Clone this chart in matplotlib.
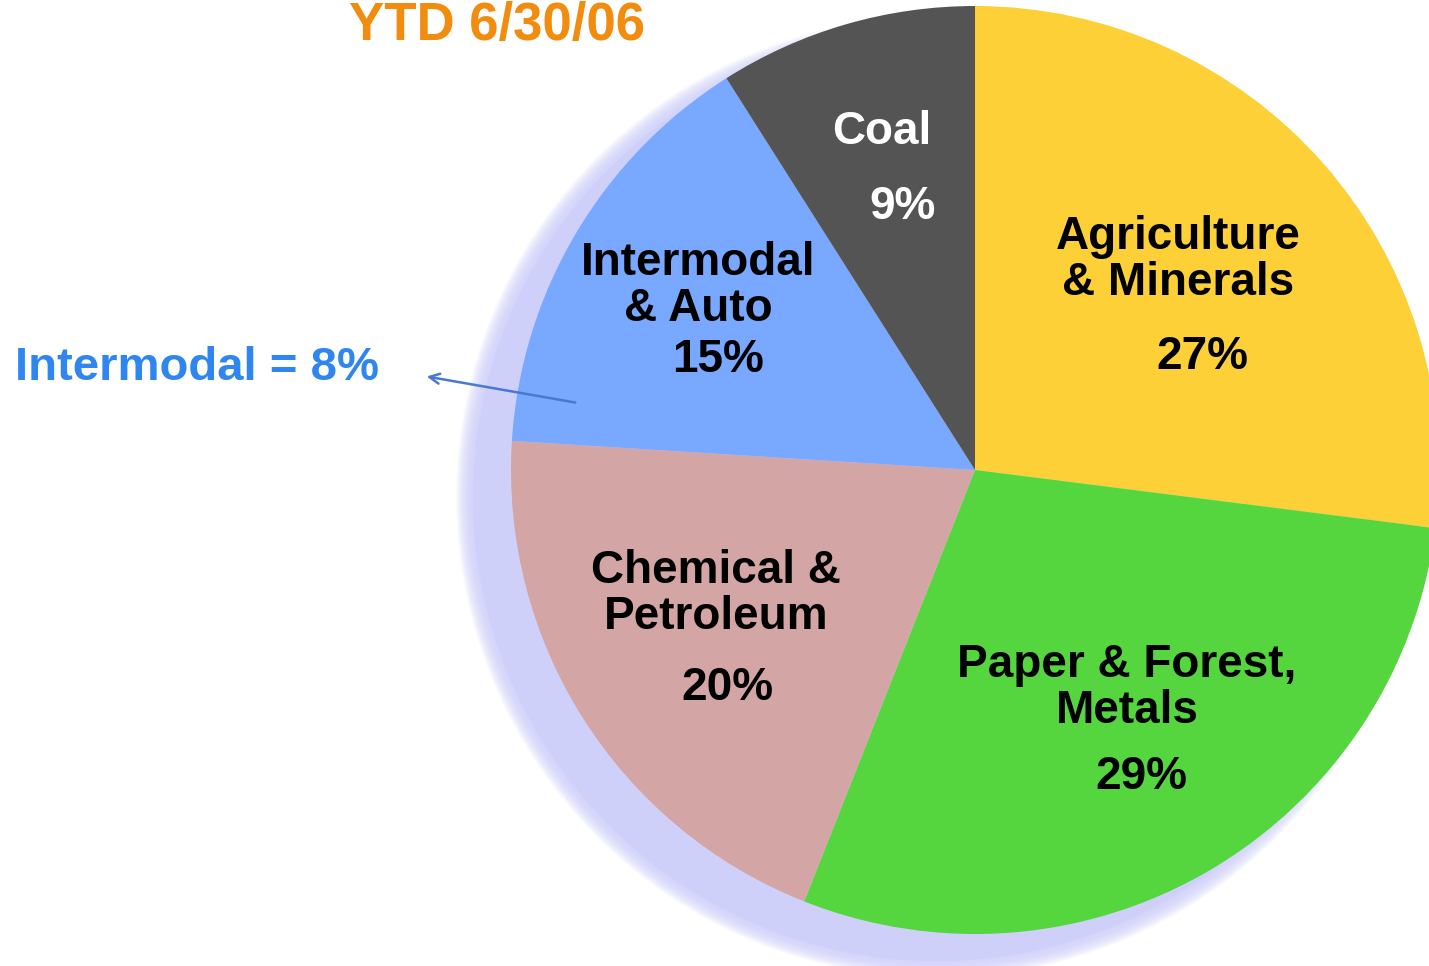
import numpy as np
import matplotlib.pyplot as plt
from matplotlib.patches import Circle

# slice data, clockwise from 12 o'clock
labels = ["Agriculture\n& Minerals", "Paper & Forest,\nMetals", "Chemical &\nPetroleum",
          "Intermodal\n& Auto", "Coal"]
shares = [27, 29, 20, 15, 9]
colors = ["#fdd037", "#56d63e", "#d3a5a5", "#78a8ff", "#545454"]
text_colors = ["black", "black", "black", "black", "white"]
title = "YTD 6/30/06"
note = "Intermodal = 8%"

plt.rcParams['font.family'] = ['Liberation Sans', 'DejaVu Sans']

W, H = 1429, 966
fig = plt.figure(figsize=(W / 100, H / 100), dpi=100)
ax = fig.add_axes([0, 0, 1, 1])

cx, cy, r = 975, H - 470, 464

# soft lavender drop shadow (offset down-left)
sx, sy = cx - 38, cy - 27
for k in range(14, 0, -1):
    ax.add_patch(Circle((sx, sy), r + k * 1.2, color="#cfd0fa", alpha=0.12, lw=0, zorder=1))
ax.add_patch(Circle((sx, sy), r, color="#cfd0fa", lw=0, zorder=1))

wedges, _ = ax.pie(shares, colors=colors, startangle=90, counterclock=False,
                   center=(cx, cy), radius=r,
                   wedgeprops=dict(linewidth=0))
for w in wedges:
    w.set_zorder(2)

# label positions in pixel coords (name centre, percent centre)
name_pos = [(1178, 260), (1127, 688), (716, 594), (698, 286), (882, 132)]
pct_pos = [(1202, 357), (1141, 777), (727, 688), (718, 360), (903, 207)]
for lab, s, tc, (nx, ny), (px, py) in zip(labels, shares, text_colors, name_pos, pct_pos):
    ax.text(nx, H - ny, lab, ha="center", va="center", fontsize=33, fontweight="bold",
            color=tc, linespacing=1.05, zorder=3)
    ax.text(px, H - py, "%d%%" % s, ha="center", va="center", fontsize=33,
            fontweight="bold", color=tc, zorder=3)

ax.text(497, H - 1, title, ha="center", va="top", fontsize=38, fontweight="bold",
        color="#f28c0f", zorder=3)
ax.text(15, H - 368, note, ha="left", va="center", fontsize=34, fontweight="bold",
        color="#2f86f0", zorder=3)
ax.annotate("", xy=(424, H - 376), xytext=(578, H - 403),
            arrowprops=dict(arrowstyle="->", color="#4a78d0", lw=1.8,
                            mutation_scale=18), zorder=3)

ax.set_xlim(0, W)
ax.set_ylim(0, H)
ax.set_aspect("equal")
ax.axis("off")

plt.savefig("out.png", dpi=100)
